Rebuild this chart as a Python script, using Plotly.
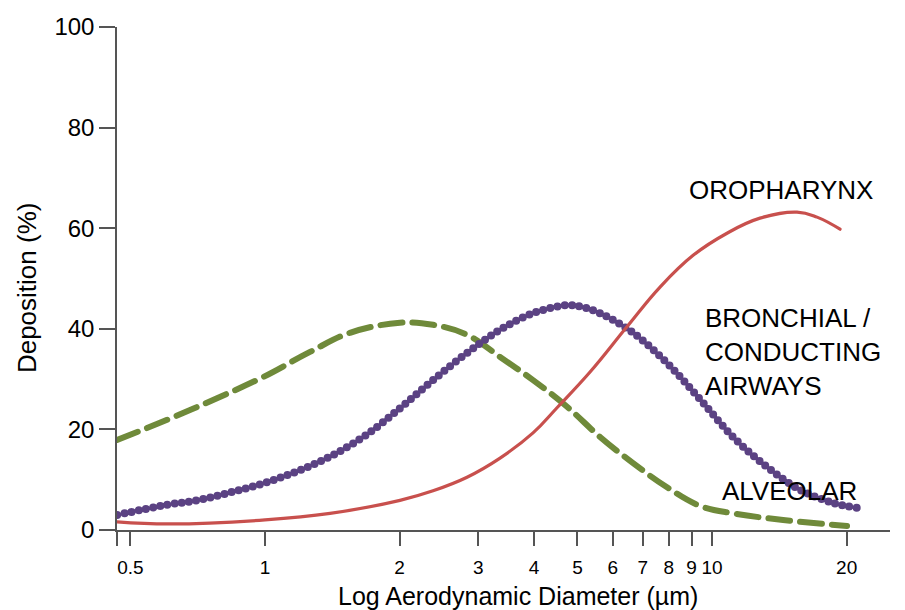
import plotly.graph_objects as go

# Aerodynamic diameter (µm) and deposition (%) for each region
oro_d = [0.467, 0.613, 1.0, 1.398, 2.004, 2.376, 2.831, 3.356, 3.977, 4.50, 5.334, 6.45, 7.65, 9.07,
         10.80, 12.80, 15.49, 17.17, 19.33]
oro_v = [1.6, 1.2, 2.0, 3.3, 5.9, 7.8, 10.5, 14.3, 19.3, 24.3, 31.4, 40.4, 48.3, 54.6,
         59.0, 62.0, 63.2, 62.2, 59.8]

bron_d = [0.467, 0.604, 0.715, 0.848, 1.01, 1.198, 1.419, 1.691, 2.004, 2.376, 2.831, 3.356, 3.977, 4.739, 5.145,
          5.616, 6.658, 7.93, 9.4, 11.14, 13.28, 15.73, 18.65, 21.1]
bron_v = [3.0, 5.0, 6.0, 7.6, 9.5, 11.9, 14.9, 19.0, 24.2, 29.8, 35.2, 39.8, 43.1, 44.7, 44.3,
          43.1, 39.2, 33.2, 26.0, 18.5, 12.5, 8.0, 5.4, 4.4]

alv_d = [0.467, 0.604, 0.781, 0.990, 1.261, 1.549, 2.004, 2.376, 2.831, 3.356, 3.977,
         4.739, 5.616, 6.658, 7.93, 9.40, 11.14, 14.42, 20.04]
alv_v = [17.9, 21.9, 26.2, 30.4, 35.4, 39.2, 41.2, 40.8, 38.8, 34.4, 29.8,
         24.5, 18.5, 13.3, 8.5, 4.8, 3.3, 2.0, 0.8]

x_tick_vals = [0.4667, 0.5, 1, 2, 3, 4, 5, 6, 7, 8, 9, 10, 20]
x_tick_text = ["", "0.5", "1", "2", "3", "4", "5", "6", "7", "8", "9", "10", "20"]
y_tick_vals = [0, 20, 40, 60, 80, 100]

FONT = "Liberation Sans, Arial, sans-serif"
RED = "#c8504d"
GREEN = "#6f8a3a"
PURPLE = "#5b4283"
AXIS = "#555555"

fig = go.Figure()

fig.add_trace(go.Scatter(
    x=alv_d, y=alv_v, mode="lines", name="Alveolar",
    line=dict(color=GREEN, width=6, dash="22px,10px", shape="spline", smoothing=1.1),
))
fig.add_trace(go.Scatter(
    x=bron_d, y=bron_v, mode="lines", name="Bronchial",
    line=dict(color=PURPLE, width=8, dash="0px,7.3px", shape="spline", smoothing=1.0),
))
fig.add_trace(go.Scatter(
    x=oro_d, y=oro_v, mode="lines", name="Oropharynx",
    line=dict(color=RED, width=3.2, shape="spline", smoothing=1.2),
))

fig.update_layout(
    width=905, height=610,
    margin=dict(l=117, r=15, t=27, b=80),
    paper_bgcolor="white", plot_bgcolor="white",
    showlegend=False,
    font=dict(family=FONT, color="black"),
    xaxis=dict(
        type="log", range=[-0.331, 1.398],
        showline=True, linecolor=AXIS, linewidth=1.5,
        showgrid=False, zeroline=False,
        ticks="outside", ticklen=14, tickcolor=AXIS, tickwidth=1.5,
        tickvals=x_tick_vals, ticktext=x_tick_text,
        ticklabelstandoff=5,
        tickfont=dict(size=19, family=FONT, color="black"),
    ),
    yaxis=dict(
        range=[0, 100],
        showline=True, linecolor=AXIS, linewidth=1.5,
        showgrid=False, zeroline=False,
        ticks="outside", ticklen=16, tickcolor=AXIS, tickwidth=1.5,
        tickvals=y_tick_vals,
        tickfont=dict(size=24, family=FONT, color="black"),
    ),
    annotations=[
        dict(text="OROPHARYNX", xref="paper", yref="paper", x=0.737, y=0.676,
             xanchor="left", yanchor="middle", showarrow=False,
             font=dict(size=26, family=FONT, color="black")),
        dict(text="BRONCHIAL /<br>CONDUCTING<br>AIRWAYS", xref="paper", yref="paper", x=0.758, y=0.354,
             xanchor="left", yanchor="middle", align="left", showarrow=False,
             font=dict(size=26, family=FONT, color="black")),
        dict(text="ALVEOLAR", xref="paper", yref="paper", x=0.780, y=0.0775,
             xanchor="left", yanchor="middle", showarrow=False,
             font=dict(size=26, family=FONT, color="black")),
        dict(text="Deposition (%)", xref="paper", yref="paper", x=-0.1164, y=0.481,
             xanchor="center", yanchor="middle", textangle=-90, showarrow=False,
             font=dict(size=26, family=FONT, color="black")),
        dict(text="Log Aerodynamic Diameter (µm)", xref="paper", yref="paper", x=0.519, y=-0.131,
             xanchor="center", yanchor="middle", showarrow=False,
             font=dict(size=25, family=FONT, color="black")),
    ],
)

# Round caps turn the zero-length dashes of the bronchial curve into beads
bead_js = """
var paths = document.querySelectorAll('.scatterlayer .trace path.js-line');
paths.forEach(function(p){ p.style.strokeLinecap = 'round'; });
"""

fig.write_html("out.html", post_script=bead_js)
